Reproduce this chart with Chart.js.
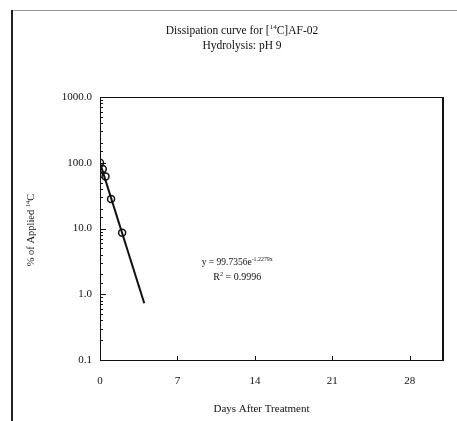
<!DOCTYPE html>
<html>
<head>
<meta charset="utf-8">
<script src="https://cdn.jsdelivr.net/npm/chart.js@4/dist/chart.umd.min.js"></script>
<style>
  html, body { margin: 0; padding: 0; background: #fff; }
  #wrap { width: 457px; height: 421px; position: relative; }
</style>
</head>
<body>
<div id="wrap"><canvas id="c" width="457" height="421"></canvas></div>
<script>
// Measured hydrolysis residues (days, % of applied radioactivity)
const days = [0, 0.25, 0.5, 1, 2];
const percentApplied = [100, 80, 62, 28, 8.6];

// First-order fit y = 99.7356 e^(-1.2279x), drawn between its end points
const fitDays = [0, 4];
const fitPercent = [99.7, 0.73];

const xTicks = [0, 7, 14, 21, 28];
const yDecades = [0.1, 1, 10, 100, 1000];

const titleLines = [
  [{ t: 'Dissipation curve for [' }, { t: '14', sup: true }, { t: 'C]AF-02' }],
  [{ t: 'Hydrolysis: pH 9' }]
];
const yTitle = [{ t: '% of Applied ' }, { t: '14', sup: true }, { t: 'C' }];
const xTitle = 'Days After Treatment';
const eqnLine = [{ t: 'y = 99.7356e' }, { t: '-1.2279x', sup: true }];
const r2Line = [{ t: 'R' }, { t: '2', sup: true }, { t: ' = 0.9996' }];

const SERIF = '"Liberation Serif", "Times New Roman", serif';

function richWidth(ctx, segs, size) {
  let w = 0;
  for (const s of segs) {
    ctx.font = (s.sup ? size * 0.62 : size) + 'px ' + SERIF;
    w += ctx.measureText(s.t).width;
  }
  return w;
}
function drawRich(ctx, segs, cx, baseline, size) {
  let x = cx - richWidth(ctx, segs, size) / 2;
  ctx.textAlign = 'left';
  ctx.textBaseline = 'alphabetic';
  for (const s of segs) {
    ctx.font = (s.sup ? size * 0.62 : size) + 'px ' + SERIF;
    ctx.fillText(s.t, x, s.sup ? baseline - size * 0.42 : baseline);
    x += ctx.measureText(s.t).width;
  }
}

const decor = {
  id: 'decor',
  beforeDraw(chart) {
    const ctx = chart.ctx;
    ctx.save();
    // page frame
    ctx.strokeStyle = '#9a9a9a';
    ctx.lineWidth = 1;
    ctx.beginPath(); ctx.moveTo(11, 10.5); ctx.lineTo(457, 10.5); ctx.stroke();
    ctx.strokeStyle = '#222';
    ctx.lineWidth = 2;
    ctx.beginPath(); ctx.moveTo(12, 10); ctx.lineTo(12, 421); ctx.stroke();
    ctx.restore();
  },
  afterDraw(chart) {
    const ctx = chart.ctx;
    const a = chart.chartArea;
    const xs = chart.scales.x, ys = chart.scales.y;
    ctx.save();
    ctx.fillStyle = '#111';
    ctx.strokeStyle = '#111';
    // plot frame
    ctx.lineWidth = 1;
    ctx.beginPath();
    ctx.moveTo(a.left, a.top + 0.5); ctx.lineTo(a.right, a.top + 0.5);
    ctx.moveTo(a.left, a.bottom + 0.5); ctx.lineTo(a.right, a.bottom + 0.5);
    ctx.moveTo(a.left + 0.5, a.top); ctx.lineTo(a.left + 0.5, a.bottom);
    ctx.stroke();
    ctx.lineWidth = 2;
    ctx.beginPath(); ctx.moveTo(a.right, a.top); ctx.lineTo(a.right, a.bottom + 1); ctx.stroke();
    // inward tick marks on the log axis
    ctx.lineWidth = 1;
    ctx.beginPath();
    for (const t of ys.ticks) {
      const y = Math.round(ys.getPixelForValue(t.value)) + 0.5;
      const major = yDecades.some(d => Math.abs(d - t.value) < 1e-9);
      ctx.moveTo(a.left, y); ctx.lineTo(a.left + (major ? 6 : 3), y);
    }
    for (const t of xs.ticks) {
      const x = Math.round(xs.getPixelForValue(t.value)) + 0.5;
      ctx.moveTo(x, a.bottom); ctx.lineTo(x, a.bottom - 4);
    }
    ctx.stroke();
    // titles
    drawRich(ctx, titleLines[0], 242, 34, 11.5);
    drawRich(ctx, titleLines[1], 242, 49, 11.5);
    ctx.font = '11px ' + SERIF;
    ctx.textAlign = 'center';
    ctx.fillText(xTitle, (a.left + a.right) / 2 - 10, 412);
    ctx.save();
    ctx.translate(34, 230);
    ctx.rotate(-Math.PI / 2);
    drawRich(ctx, yTitle, 0, 0, 10.5);
    ctx.restore();
    // regression annotation
    const ax = xs.getPixelForValue(12.4);
    drawRich(ctx, eqnLine, ax, ys.getPixelForValue(3.07) + 3, 9.5);
    drawRich(ctx, r2Line, ax, ys.getPixelForValue(1.81) + 3, 10);
    ctx.restore();
  }
};

new Chart(document.getElementById('c'), {
  type: 'scatter',
  data: {
    datasets: [
      {
        data: days.map((d, i) => ({ x: d, y: percentApplied[i] })),
        showLine: false,
        pointStyle: 'circle',
        pointRadius: 3.5,
        pointBorderWidth: 1.5,
        pointBorderColor: '#111',
        pointBackgroundColor: 'rgba(255,255,255,0)'
      },
      {
        data: fitDays.map((d, i) => ({ x: d, y: fitPercent[i] })),
        showLine: true,
        borderColor: '#111',
        borderWidth: 2,
        pointRadius: 0
      }
    ]
  },
  options: {
    responsive: false,
    animation: false,
    layout: { padding: { left: 20, right: 14, top: 97, bottom: 0 } },
    plugins: { legend: { display: false }, tooltip: { enabled: false }, title: { display: false } },
    scales: {
      x: {
        type: 'linear',
        min: 0, max: 31,
        grid: { display: false, drawTicks: false },
        border: { display: false },
        afterBuildTicks: s => { s.ticks = xTicks.map(v => ({ value: v })); },
        afterFit: s => { s.height = 61; },
        ticks: {
          padding: 15,
          color: '#111',
          font: { family: SERIF, size: 11 },
          callback: v => String(v)
        }
      },
      y: {
        type: 'logarithmic',
        min: 0.1, max: 1000,
        grid: { display: false, drawTicks: false },
        border: { display: false },
        afterFit: s => { s.width = 80; },
        ticks: {
          autoSkip: false,
          padding: 8,
          color: '#111',
          font: { family: SERIF, size: 11 },
          callback: v => yDecades.some(d => Math.abs(d - v) < 1e-9) ? Number(v).toFixed(1) : ''
        }
      }
    }
  },
  plugins: [decor]
});
</script>
</body>
</html>
